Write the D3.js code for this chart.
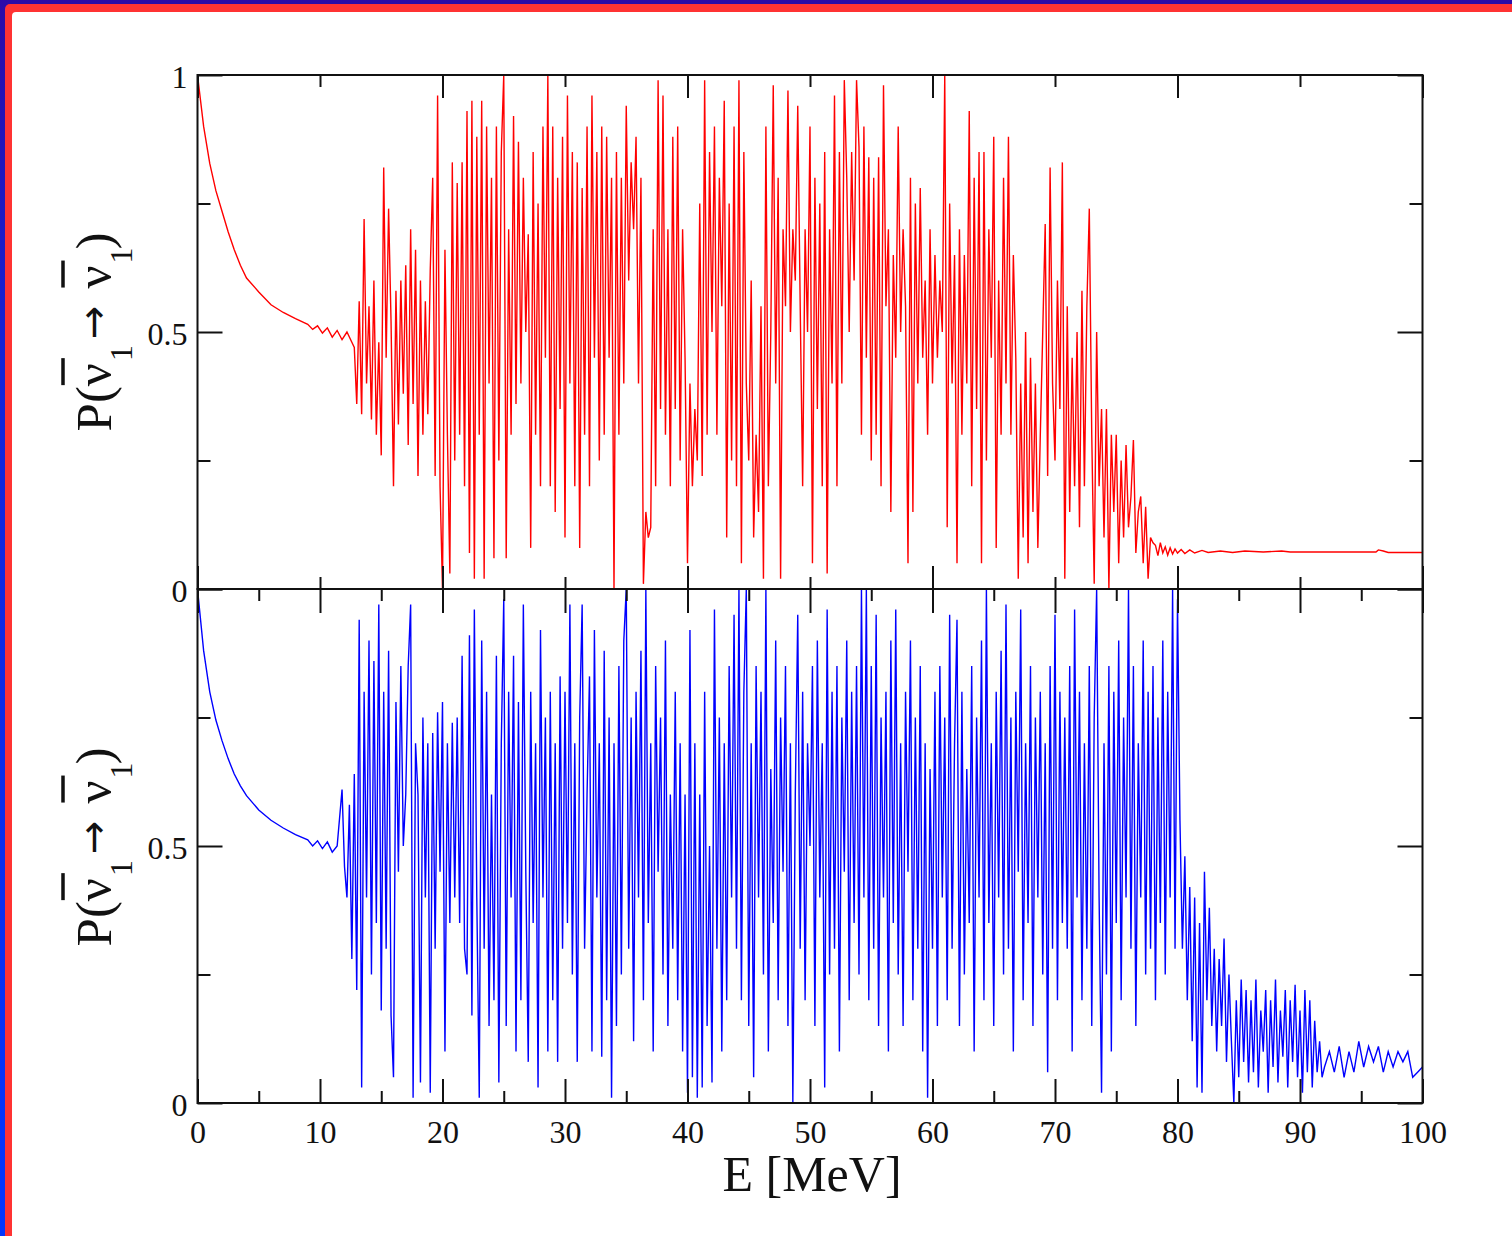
<!DOCTYPE html>
<html>
<head>
<meta charset="utf-8">
<script src="https://cdn.jsdelivr.net/npm/d3@7"></script>
<style>
  body { margin: 0; background: #fff; }
  svg { display: block; }
  text { font-family: "Liberation Serif", "Times New Roman", serif; fill: #111; }
</style>
</head>
<body>
<svg width="1512" height="1236"></svg>
<script>
// **** Data ****

// low energy, smooth part of the red (top) curve
var topSmoothE = [0, 0.5, 1, 1.5, 2, 2.5, 3, 3.5, 4, 5, 6, 7, 8, 9, 9.4, 9.8, 10.2, 10.6, 11.0, 11.4, 11.8, 12.2, 12.6];
var topSmoothP = [1.0, 0.9, 0.828, 0.775, 0.735, 0.695, 0.66, 0.63, 0.605, 0.578, 0.553, 0.538, 0.526, 0.515, 0.505, 0.512, 0.498, 0.508, 0.49, 0.503, 0.485, 0.5, 0.48];

// oscillating part of the red curve, one value every 0.2 MeV from 12.8 MeV (P in %)
var topOscStart = 12.8, topOscStep = 0.2;
var topOscP = [47,
  36, 56, 34, 72, 40,   55, 33, 60, 30, 48,   26, 82, 45, 74, 52,   20, 58, 32, 60, 38,
  63, 28, 70, 36, 66,   22, 60, 30, 56, 34,   62, 80, 22, 96, 20,   0, 66, 30, 3, 83,
  25, 79, 30, 83, 20,   93, 7, 95, 2, 88,     30, 95, 2, 90, 40,    80, 6, 90, 25, 85,
  100, 6, 70, 30, 92,   36, 87, 40, 80, 50,   69, 8, 85, 30, 75,    20, 90, 45, 100, 20,
  90, 15, 80, 35, 88,   10, 96, 40, 85, 20,   83, 8, 78, 30, 90,    20, 96, 45, 85, 25,
  90, 30, 88, 45, 80,   0, 85, 30, 80, 40,    94, 60, 83, 70, 88,   40, 80, 1, 15, 10,
  12, 70, 20, 99, 35,   96, 30, 70, 20, 88,   35, 90, 25, 70, 45,   5, 40, 20, 35, 25,
  75, 22, 99, 30, 85,   50, 90, 30, 80, 55,   95, 10, 75, 25, 90,   20, 99, 5, 85, 40,
  25, 60, 10, 30, 15,   55, 2, 90, 20, 50,    98, 40, 80, 2, 70,    55, 97, 50, 70, 60,
  94, 55, 20, 70, 50,   90, 5, 80, 35, 75,    20, 85, 3, 70, 40,    96, 20, 85, 40, 99,
  80, 50, 85, 60, 99,   86, 30, 90, 45, 84,   25, 80, 30, 84, 20,   98, 55, 70, 15, 65,
  45, 90, 50, 70, 55,   5, 80, 15, 75, 40,    78, 45, 60, 30, 70,   40, 65, 45, 60, 50,
  100, 12, 75, 40, 65,  5, 70, 30, 65, 40,    93, 20, 80, 35, 85,   5, 85, 25, 70, 45,
  88, 8, 60, 30, 80,    40, 88, 30, 65, 45,   2, 40, 10, 50, 5,     45, 15, 40, 8, 30,
  50, 71, 22, 82, 40,   25, 60, 35, 83, 2,    55, 15, 45, 20, 50,   12, 58, 20, 55, 74,
  30, 1, 50, 20, 35,    10, 35, 0, 30, 15,    30, 5, 25, 10, 28,    12, 18, 29, 7, 15,
  18, 5, 16, 2, 10,
  9];

// high energy tail of the red curve
var topTailE = [78.2, 78.4, 78.6, 78.8, 79.0, 79.2, 79.4, 79.6, 79.8, 80.0, 80.3, 80.6, 81.0, 81.4, 82.0, 82.5, 83.5, 84.5, 85.5, 87.0, 88.5, 89.2, 96.2, 96.4, 96.8, 97.2, 100];
var topTailP = [0.085, 0.065, 0.09, 0.07, 0.082, 0.066, 0.08, 0.068, 0.078, 0.07, 0.077, 0.069, 0.076, 0.07, 0.075, 0.071, 0.074, 0.071, 0.074, 0.072, 0.074, 0.072, 0.072, 0.076, 0.074, 0.071, 0.071];

// low energy, smooth part of the blue (bottom) curve
var botSmoothE = [0, 0.5, 1, 1.5, 2, 2.5, 3, 3.5, 4, 5, 6, 7, 8, 9, 9.4, 9.8, 10.2, 10.6, 11.0, 11.4];
var botSmoothP = [1.0, 0.88, 0.8, 0.745, 0.705, 0.67, 0.64, 0.617, 0.598, 0.57, 0.55, 0.535, 0.522, 0.512, 0.5, 0.51, 0.495, 0.508, 0.488, 0.5];

// oscillating part of the blue curve, one value every 0.2 MeV from 11.8 MeV (P in %)
var botOscStart = 11.8, botOscStep = 0.2;
var botOscP = [61,
  46, 40, 58, 28, 64,   22, 94, 3, 80, 40,    90, 25, 86, 35, 97,   18, 80, 30, 88, 17,
  5, 78, 45, 85, 50,    60, 85, 97, 1, 70,    60, 4, 75, 40, 70,    2, 72, 30, 76, 45,
  78, 10, 70, 35, 74,   40, 75, 35, 87, 30,   25, 91, 17, 96, 40,   1, 90, 30, 80, 15,
  60, 20, 87, 4, 70,    98, 15, 80, 40, 87,   10, 78, 20, 97, 45,   8, 80, 35, 70, 3,
  92, 40, 75, 10, 80,   20, 70, 8, 83, 30,    80, 35, 97, 25, 70,   8, 75, 97, 30, 60,
  83, 10, 92, 40, 70,   9, 88, 20, 75, 1,     70, 15, 85, 25, 90,   100, 30, 75, 12, 80,
  40, 88, 20, 100, 35,  70, 10, 85, 45, 75,   25, 90, 15, 60, 30,   80, 20, 70, 10, 60,
  2, 92, 5, 70, 1,      60, 3, 80, 15, 50,    4, 96, 30, 75, 10,    70, 20, 85, 40, 95,
  30, 100, 20, 80, 100, 15, 70, 5, 85, 40,    80, 25, 100, 10, 65,  35, 90, 20, 75, 45,
  85, 15, 70, 0, 60,    95, 30, 80, 20, 70,   50, 85, 15, 90, 40,   70, 3, 96, 25, 80,
  30, 85, 10, 75, 45,   90, 20, 80, 35, 85,   25, 100, 40, 100, 20, 85, 30, 95, 15, 75,
  40, 80, 10, 90, 35,   96, 25, 70, 15, 80,   45, 90, 20, 75, 30,   85, 10, 70, 1, 65,
  30, 80, 15, 85, 40,   75, 20, 95, 30, 70,   94, 15, 80, 25, 65,   35, 85, 10, 75, 40,
  90, 20, 100, 35, 70,  15, 80, 40, 88, 25,   97, 30, 75, 10, 80,   45, 96, 20, 70, 35,
  85, 15, 75, 40, 80,   25, 70, 6, 85, 30,    95, 20, 80, 35, 75,   30, 85, 10, 96, 40,
  80, 20, 70, 30, 85,   15, 75, 100, 40, 2,   70, 25, 85, 10, 80,   35, 90, 20, 75, 40,
  100, 30, 85, 15, 70,  40, 90, 25, 80, 30,   85, 20, 75, 35, 90,   25, 80, 40, 100, 30,
  98, 55, 30, 48, 20,   42, 12, 40, 3, 35,    2, 45, 20, 38, 15,    30, 10, 28, 15, 32,
  8, 25, 12, 0, 20,     5, 24, 8, 22, 4,      20, 6, 24, 3, 18,     10, 22, 2, 20, 7,
  24, 4, 18, 9, 22,     3, 20, 8, 23, 5,      18, 2, 22, 6, 20,     3, 16, 6, 12, 5,
  7];

// high energy tail of the blue curve
var botTailE = [92.4, 92.8, 93.2, 93.6, 94.0, 94.4, 94.8, 95.2, 95.6, 96.0, 96.4, 96.8, 97.2, 97.6, 98.0, 98.4, 98.8, 99.2, 99.6, 100];
var botTailP = [0.1, 0.06, 0.11, 0.05, 0.1, 0.06, 0.12, 0.07, 0.11, 0.08, 0.11, 0.06, 0.1, 0.07, 0.1, 0.08, 0.1, 0.05, 0.06, 0.07];

// ticks
var xTickValues = [0, 10, 20, 30, 40, 50, 60, 70, 80, 90, 100];
var xMinorBottom = [5, 15, 25, 35, 45, 55, 65, 75, 85, 95];
var xMajorTop = [0, 20, 40, 60, 80, 100];
var xMinorTop = [10, 30, 50, 70, 90];
var yMajor = [0, 0.5, 1];
var yMinor = [0.25, 0.75];
var yTopLabels = [0, 0.5, 1];
var yBotLabels = [0, 0.5];

// **** Build series ****
function buildSeries(smE, smP, oscStart, oscStep, oscP, tailE, tailP) {
    var pts = [];
    smE.forEach(function (e, i) { pts.push({ E: e, P: smP[i] }); });
    oscP.forEach(function (p, i) { pts.push({ E: +(oscStart + i * oscStep).toFixed(2), P: p / 100 }); });
    tailE.forEach(function (e, i) { pts.push({ E: e, P: tailP[i] }); });
    return pts;
}
var topData = buildSeries(topSmoothE, topSmoothP, topOscStart, topOscStep, topOscP, topTailE, topTailP);
var botData = buildSeries(botSmoothE, botSmoothP, botOscStart, botOscStep, botOscP, botTailE, botTailP);

// **** Scales ****
var svg = d3.select('svg');
var xScale = d3.scaleLinear().domain([0, 100]).range([197.5, 1422.5]);
var yTop = d3.scaleLinear().domain([0, 1]).range([589, 75]);
var yBot = d3.scaleLinear().domain([0, 1]).range([1103, 589]);

// **** Page frame (blue / red border) ****
var defs = svg.append('defs');
var grad = defs.append('linearGradient').attr('id', 'blueGrad')
    .attr('x1', 0).attr('y1', 0).attr('x2', 0).attr('y2', 1);
grad.append('stop').attr('offset', 0).attr('stop-color', '#2b0ba8');
grad.append('stop').attr('offset', 0.3).attr('stop-color', '#1424d8');
grad.append('stop').attr('offset', 1).attr('stop-color', '#0436ff');
svg.append('rect').attr('width', 1512).attr('height', 1236).attr('fill', 'url(#blueGrad)');
svg.append('rect').attr('x', 5).attr('y', 4).attr('width', 1530).attr('height', 1260)
    .attr('rx', 5).attr('fill', '#ff3333');
svg.append('rect').attr('x', 12).attr('y', 12).attr('width', 1530).attr('height', 1260)
    .attr('rx', 4).attr('fill', '#ffffff');

defs.append('clipPath').attr('id', 'clipTop').append('rect')
    .attr('x', 197.5).attr('y', 75).attr('width', 1225).attr('height', 514);
defs.append('clipPath').attr('id', 'clipBot').append('rect')
    .attr('x', 197.5).attr('y', 589).attr('width', 1225).attr('height', 514);

// **** Curves ****
function drawCurve(data, yScale, color, clip) {
    var line = d3.line()
        .x(function (d) { return xScale(d.E); })
        .y(function (d) { return yScale(d.P); });
    svg.append('path')
        .datum(data)
        .attr('clip-path', 'url(#' + clip + ')')
        .attr('fill', 'none')
        .attr('stroke', color)
        .attr('stroke-width', 1.4)
        .attr('stroke-linejoin', 'miter')
        .attr('d', line);
}
drawCurve(topData, yTop, '#ff0000', 'clipTop');
drawCurve(botData, yBot, '#0000ff', 'clipBot');

// **** Axes ****
function styleAxis(g) {
    g.select('.domain').remove();
    g.attr('color', '#111');
    g.selectAll('line').attr('stroke-width', 2);
    g.attr('font-family', '"Liberation Serif", "Times New Roman", serif');
    return g;
}
function addAxis(axis, tx, ty) {
    var g = svg.append('g').attr('transform', 'translate(' + tx + ',' + ty + ')').call(axis);
    return styleAxis(g);
}

// top panel: x ticks (no labels)
addAxis(d3.axisBottom(xScale).tickValues(xMajorTop).tickSize(-23).tickFormat(''), 0, yTop(0));
addAxis(d3.axisBottom(xScale).tickValues(xMinorTop).tickSize(-12).tickFormat(''), 0, yTop(0));
addAxis(d3.axisTop(xScale).tickValues(xMajorTop).tickSize(-23).tickFormat(''), 0, yTop(1));
addAxis(d3.axisTop(xScale).tickValues(xMinorTop).tickSize(-12).tickFormat(''), 0, yTop(1));

// bottom panel: x ticks, labels on the bottom edge
addAxis(d3.axisBottom(xScale).tickValues(xTickValues).tickSize(-24).tickPadding(17)
    .tickFormat(d3.format('d')), 0, yBot(0)).attr('font-size', 32);
addAxis(d3.axisBottom(xScale).tickValues(xMinorBottom).tickSize(-12).tickFormat(''), 0, yBot(0));
addAxis(d3.axisTop(xScale).tickValues(xTickValues).tickSize(-24).tickFormat(''), 0, yBot(1));
addAxis(d3.axisTop(xScale).tickValues(xMinorBottom).tickSize(-12).tickFormat(''), 0, yBot(1));

// y ticks both panels
[[yTop, yTopLabels], [yBot, yBotLabels]].forEach(function (p) {
    var ys = p[0], labels = p[1];
    var g = addAxis(d3.axisLeft(ys).tickValues(yMajor).tickSize(-25).tickPadding(10)
        .tickFormat(function (d) { return labels.indexOf(d) >= 0 ? d3.format('')(d) : ''; }), 197.5, 0)
        .attr('font-size', 32);
    g.selectAll('text').attr('dy', '0.4em');
    addAxis(d3.axisLeft(ys).tickValues(yMinor).tickSize(-13).tickFormat(''), 197.5, 0);
    addAxis(d3.axisRight(ys).tickValues(yMajor).tickSize(-25).tickFormat(''), 1422.5, 0);
    addAxis(d3.axisRight(ys).tickValues(yMinor).tickSize(-13).tickFormat(''), 1422.5, 0);
});

// panel frames
[[75, 514], [589, 514]].forEach(function (f) {
    svg.append('rect')
        .attr('x', 197.5).attr('y', f[0]).attr('width', 1225).attr('height', f[1])
        .attr('fill', 'none').attr('stroke', '#111').attr('stroke-width', 2);
});

// **** Axis titles ****
svg.append('text')
    .attr('x', 812).attr('y', 1191)
    .attr('text-anchor', 'middle')
    .style('font-size', '50px')
    .text('E [MeV]');

function yTitle(cy) {
    var g = svg.append('g').attr('transform', 'translate(111,' + cy + ') rotate(-90)');
    var t = g.append('text').attr('text-anchor', 'middle').style('font-size', '51px');
    t.append('tspan').text('P(');
    t.append('tspan').text('ν');
    t.append('tspan').style('font-size', '32px').attr('dx', 2).attr('dy', 21).text('1');
    t.append('tspan').style('font-family', '"DejaVu Sans", sans-serif').style('font-size', '40px')
        .attr('dx', 6).attr('dy', -25).text('→');
    t.append('tspan').attr('dx', 17).attr('dy', 4).text('ν');
    t.append('tspan').style('font-size', '32px').attr('dx', 2).attr('dy', 21).text('1');
    t.append('tspan').attr('dx', -2).attr('dy', -21).text(')');
    // overbars on the two nu's
    [2, 5].forEach(function (idx) {
        var s = t.node().getStartPositionOfChar(idx);
        g.append('line')
            .attr('x1', s.x + 1).attr('x2', s.x + 28)
            .attr('y1', -48).attr('y2', -48)
            .attr('stroke', '#111').attr('stroke-width', 3.5);
    });
}
yTitle(332);
yTitle(847);
</script>
</body>
</html>
